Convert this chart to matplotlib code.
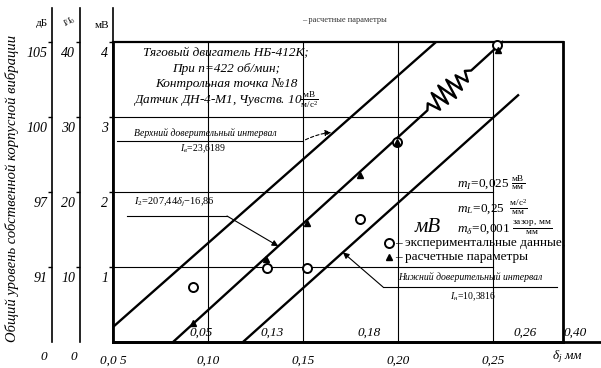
import matplotlib.pyplot as plt
from matplotlib.transforms import ScaledTranslation
import numpy as np

W, H = 601, 368

plt.rcParams['font.family'] = ['Liberation Serif', 'DejaVu Serif']
plt.rcParams['mathtext.fontset'] = 'custom'
plt.rcParams['mathtext.rm'] = 'Liberation Serif'
plt.rcParams['mathtext.it'] = 'Liberation Serif:italic'
plt.rcParams['mathtext.bf'] = 'Liberation Serif:bold'

# зазор, мм
delta_ticks = [0.05, 0.10, 0.15, 0.20, 0.25]
delta_labels = ['0,0 5', '0,10', '0,15', '0,20', '0,25']

# шкалы уровня вибрации
level_ticks = [1, 2, 3, 4]
db_labels = ['91', '97', '100', '105']
rel_labels = ['10', '20', '30', '40']
mv_labels = ['1', '2', '3', '4']

# экспериментальные данные
exp_delta = [0.092, 0.131, 0.152, 0.180, 0.1995, 0.252]
exp_mv = [0.73, 0.99, 0.99, 1.64, 2.67, 3.96]

# расчетные параметры
calc_delta = [0.092, 0.1305, 0.152, 0.180, 0.1995, 0.2526]
calc_mv = [0.25, 1.11, 1.59, 2.23, 2.67, 3.89]

# линия регрессии и доверительные интервалы (концы отрезков)
mid_delta = [0.0816, 0.2550]
mid_mv = [0.0, 4.0]
upper_delta = [0.05, 0.2200]
upper_mv = [0.2, 4.0]
lower_delta = [0.1184, 0.2632]
lower_mv = [0.0, 3.29]

# вторая шкала под осью
inner_delta = [0.0963, 0.134, 0.185, 0.267, 0.293]
inner_labels = ['0,05', '0,13', '0,18', '0,26', '0,40']

# излом на линии регрессии
zig_from, zig_to = 0.2155, 0.2385
zig_amp = [0, 5, -8, 10, -9, 11, -10, 10, -8, 7, -6, 4, 0]


def fx(x):
    return x / W


def fy(y):
    return 1 - y / H


fig = plt.figure(figsize=(W / 100, H / 100), dpi=100)

# main field: 0.05..0.2868 mm, 0..4 mV
ax = fig.add_axes([fx(113), fy(342), 450 / W, 300 / H])
ax.set_xlim(0.05, 0.05 + 450 / 1900)
ax.set_ylim(0, 4)
for s in ['left', 'bottom', 'right']:
    ax.spines[s].set_linewidth(2.0)
ax.spines['top'].set_linewidth(1.6)
ax.set_xticks(delta_ticks)
ax.set_xticklabels(delta_labels, fontsize=9.5, style='italic')
ax.tick_params(axis='x', length=0, pad=9)
ax.set_yticks([])

for d in [0.10, 0.15, 0.20, 0.25]:
    ax.axvline(d, color='black', lw=0.8, zorder=1)
for v in [1, 2, 3]:
    ax.plot([0.05, 0.25], [v, v], color='black', lw=0.8, zorder=1)

# bottom line runs on past the frame
ax.plot([0, 1.082], [0, 0], transform=ax.transAxes, color='black',
        lw=2.0, clip_on=False)

# scales on the left
offset = ScaledTranslation(0, -0.1, fig.dpi_scale_trans)
for xpos, labels in [(52, db_labels), (80, rel_labels), (113, mv_labels)]:
    sa = fig.add_axes([fx(xpos), fy(342), 0.0001, 334 / H])
    sa.set_ylim(0, 334 / 75)
    sa.patch.set_visible(False)
    for s in ['top', 'bottom', 'right']:
        sa.spines[s].set_visible(False)
    sa.spines['left'].set_linewidth(1.2)
    sa.set_xticks([])
    sa.set_yticks(level_ticks)
    sa.set_yticklabels(labels, fontsize=10, style='italic')
    sa.tick_params(axis='y', direction='out', length=3, width=1, pad=0.5)
    for lbl in sa.get_yticklabels():
        lbl.set_transform(lbl.get_transform() + offset)

fig.text(fx(42), fy(23), 'дБ', fontsize=8, ha='center', va='center')
fig.text(fx(70), fy(22), r'$I/I_0$', fontsize=6, ha='center', va='center',
         rotation=30)
fig.text(fx(102), fy(25), 'мВ', fontsize=8, ha='center', va='center')
fig.text(fx(44), fy(357), '0', fontsize=9.5, style='italic', ha='center', va='center')
fig.text(fx(74), fy(357), '0', fontsize=9.5, style='italic', ha='center', va='center')
fig.text(fx(567), fy(357), r'$\delta_j$ мм', fontsize=9.5, style='italic',
         ha='center', va='center')
fig.text(fx(12), fy(188), 'Общий уровень собственной корпусной вибрации',
         fontsize=10.5, style='italic', rotation=90, ha='center', va='center')
fig.text(fx(344), fy(20), '– расчетные параметры', fontsize=6,
         ha='center', va='center', color='#333333')

# regression line with the break
t = np.linspace(0, 1, len(zig_amp))
zd = zig_from + (zig_to - zig_from) * t
slope = (mid_mv[1] - mid_mv[0]) / (mid_delta[1] - mid_delta[0])
zv = mid_mv[0] + slope * (zd - mid_delta[0])
p0 = ax.transData.transform((mid_delta[0], mid_mv[0]))
p1 = ax.transData.transform((mid_delta[1], mid_mv[1]))
dvec = (p1 - p0) / np.hypot(*(p1 - p0))
nvec = np.array([-dvec[1], dvec[0]])
zpts = ax.transData.transform(np.column_stack([zd, zv]))
zpts = zpts + np.outer(zig_amp, nvec)
zpts = ax.transData.inverted().transform(zpts)
path_d = [mid_delta[0]] + list(zpts[:, 0]) + [mid_delta[1]]
path_v = [mid_mv[0]] + list(zpts[:, 1]) + [mid_mv[1]]
ax.plot(path_d, path_v, color='black', lw=1.7, zorder=3, clip_on=False)

ax.plot(upper_delta, upper_mv, color='black', lw=1.7, zorder=3)
ax.plot(lower_delta, lower_mv, color='black', lw=1.7, zorder=3)

ax.plot(exp_delta, exp_mv, 'o', mfc='white', mec='black', ms=6.5, mew=1.4,
        zorder=4, clip_on=False)
ax.plot(calc_delta, calc_mv, '^', color='black', ms=4.5, zorder=5, clip_on=False)

for d, lab in zip(inner_delta, inner_labels):
    ax.text(d, 0.12, lab, fontsize=9.5, style='italic', ha='center',
            va='center', clip_on=False)

# параметры режима
info = ['Тяговый двигатель НБ-412К;',
        'При n=422 об/мин;',
        'Контрольная точка №18',
        r'Датчик ДН-4-М1, Чувств. 10$\frac{\mathrm{мВ}}{\mathrm{м/с^2}}$']
for i, line in enumerate(info):
    fig.text(fx(226), fy(53 + 15.7 * i), line, fontsize=9.5, style='italic',
             ha='center', va='center')

# upper confidence limit
fig.text(fx(205), fy(133), 'Верхний доверительный интервал', fontsize=7,
         style='italic', ha='center', va='center')
fig.lines.append(plt.Line2D([fx(117), fx(303)], [fy(141), fy(141)],
                            transform=fig.transFigure, color='black', lw=0.8))
fig.text(fx(203), fy(149), r'$I_в\!=\!23{,}6189$', fontsize=7,
         ha='center', va='center')
ux = 0.1663
uy = upper_mv[0] + (upper_mv[1] - upper_mv[0]) / (upper_delta[1] - upper_delta[0]) * (ux - upper_delta[0])
ax.annotate('', xy=(ux, uy), xytext=(303, H - 141), textcoords='figure pixels',
            arrowprops=dict(arrowstyle='-|>', color='black', lw=0.8,
                            linestyle=(0, (3, 2)), mutation_scale=9,
                            connectionstyle='arc3,rad=-0.1'))

# regression equation
fig.text(fx(174), fy(202), r'$I_2\!=\!207{,}44\delta_j\!-\!16{,}86$',
         fontsize=7.5, ha='center', va='center')
fig.lines.append(plt.Line2D([fx(127), fx(227)], [fy(216), fy(216)],
                            transform=fig.transFigure, color='black', lw=0.8))
mx = 0.137
my = slope * (mx - mid_delta[0])
ax.annotate('', xy=(mx, my), xytext=(227, H - 216), textcoords='figure pixels',
            arrowprops=dict(arrowstyle='-|>', color='black', lw=0.8,
                            mutation_scale=9, shrinkA=0, shrinkB=0))

# lower confidence limit
fig.text(fx(470), fy(277), 'Нижний доверительный интервал', fontsize=7,
         style='italic', ha='center', va='center')
fig.lines.append(plt.Line2D([fx(383), fx(557)], [fy(287), fy(287)],
                            transform=fig.transFigure, color='black', lw=0.8))
fig.text(fx(473), fy(297), r'$I_н\!=\!10{,}3816$', fontsize=7,
         ha='center', va='center')
lx = 0.171
ly = (lower_mv[1] - lower_mv[0]) / (lower_delta[1] - lower_delta[0]) * (lx - lower_delta[0])
ax.annotate('', xy=(lx, ly), xytext=(383, H - 287), textcoords='figure pixels',
            arrowprops=dict(arrowstyle='-|>', color='black', lw=0.8,
                            mutation_scale=9, shrinkA=0, shrinkB=0))

# масштабы
fig.text(fx(457), fy(183), r'$m_I\!=\!0{,}025\ \frac{\mathrm{мВ}}{\mathrm{мм}}$',
         fontsize=9.5, ha='left', va='center')
fig.text(fx(457), fy(207), r'$m_L\!=\!0{,}25\ \ \frac{\mathrm{м/с^2}}{\mathrm{мм}}$',
         fontsize=9.5, ha='left', va='center')
fig.text(fx(457), fy(228), r'$m_\delta\!=\!0{,}001\ \frac{\mathrm{зазор,\ мм}}{\mathrm{мм}}$',
         fontsize=9.5, ha='left', va='center')
fig.text(fx(428), fy(227), 'мВ', fontsize=15, style='italic',
         ha='center', va='center')

# условные обозначения
fig.lines.append(plt.Line2D([fx(389)], [fy(243)], transform=fig.transFigure,
                            marker='o', mfc='white', mec='black', ms=6.5, mew=1.4))
fig.lines.append(plt.Line2D([fx(389)], [fy(257)], transform=fig.transFigure,
                            marker='^', color='black', ms=5))
fig.text(fx(395), fy(243), '– экспериментальные данные;', fontsize=9.5,
         ha='left', va='center')
fig.text(fx(395), fy(257), '– расчетные параметры', fontsize=9.5,
         ha='left', va='center')

fig.savefig('out.png', dpi=100)
